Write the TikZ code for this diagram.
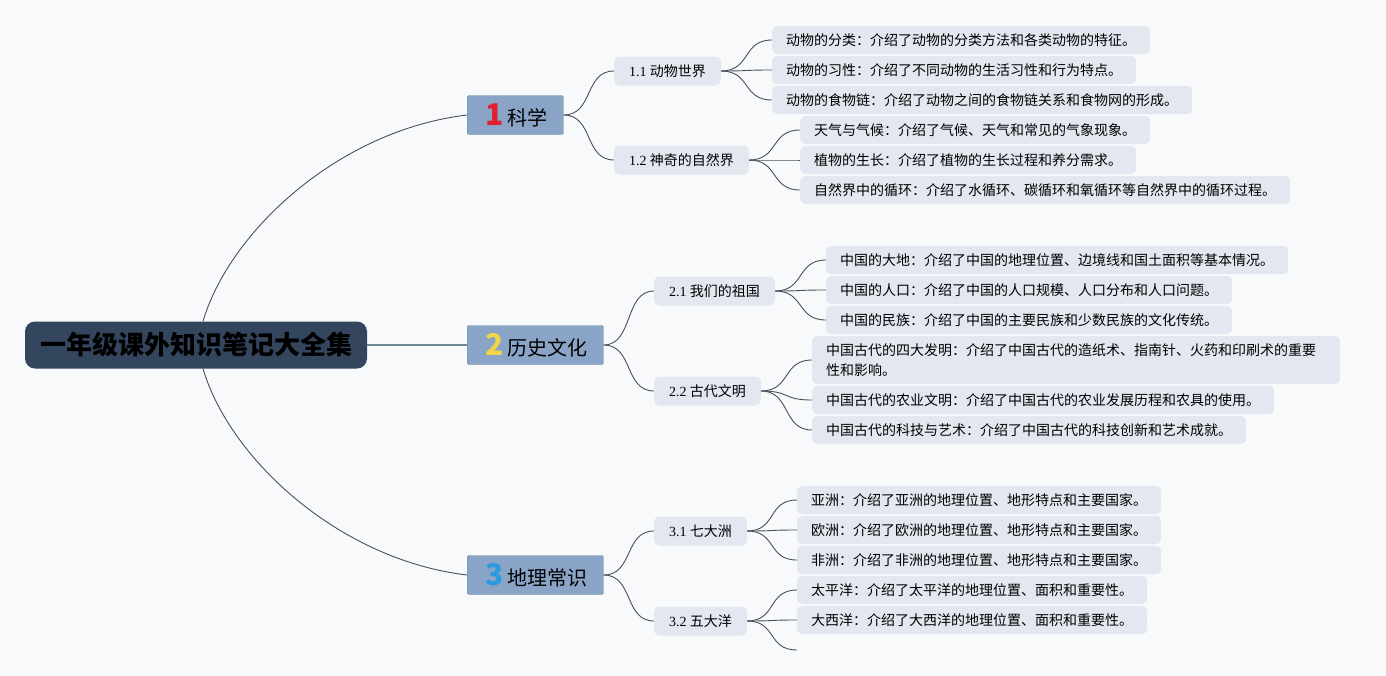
\documentclass[tikz,border=0pt]{standalone}
\usepackage{fontspec}
\setmainfont{Noto Sans CJK SC}
\newfontfamily\latin{Liberation Serif}
\definecolor{bgcol}{HTML}{F8F9FB}
\definecolor{rootcol}{HTML}{34465E}
\definecolor{branchcol}{HTML}{8AA4C8}
\definecolor{branchline}{HTML}{6A8C9C}
\definecolor{boxcol}{HTML}{E3E8F0}
\definecolor{linkcol}{HTML}{4A4F5C}
\definecolor{numred}{HTML}{E0202E}
\definecolor{numyellow}{HTML}{F0D44A}
\definecolor{numblue}{HTML}{2B9BE0}
\newcommand{\branchnum}[2]{\hspace{2pt}{\fontsize{30}{30}\selectfont\bfseries\color{#1}#2}\hspace{4pt}}
\begin{document}
\begin{tikzpicture}[x=1pt, y=-1pt,
    root/.style={rectangle, rounded corners=10pt, fill=rootcol, text=black, minimum height=47pt, inner xsep=15pt, font={\fontsize{26}{30}\selectfont\bfseries}},
    branch/.style={rectangle, rounded corners=2pt, fill=branchcol, draw=branchline, minimum height=39pt, inner xsep=16pt, inner ysep=3pt, anchor=west, font={\fontsize{20}{24}\selectfont}},
    sub/.style={rectangle, rounded corners=5pt, fill=boxcol, minimum height=29pt, inner xsep=15pt, anchor=west, font={\fontsize{14}{20}\selectfont}},
    leaf/.style={rectangle, rounded corners=5pt, fill=boxcol, minimum height=28pt, inner xsep=14pt, anchor=west, align=left, font={\fontsize{14}{20}\selectfont}},
    link/.style={draw=linkcol, line width=0.9pt},
]
    \fill[bgcol] (0,0) rectangle (1386,675);
    \useasboundingbox (0,0) rectangle (1386,675);

    % Root and main branches
    \node[root] (root) at (196,345) {一年级课外知识笔记大全集};
    \node[branch] (sci) at (467,115) {\branchnum{numred}{1}科学};
    \node[branch] (hist) at (467,345) {\branchnum{numyellow}{2}历史文化};
    \node[branch] (geo) at (467,575) {\branchnum{numblue}{3}地理常识};

    \draw[link] ([xshift=7pt]root.north) .. controls +(27,-91) and +(-127,15) .. (sci.west);
    \draw[draw=branchline!70!gray, line width=1.2pt] (root.east) -- (hist.west);
    \draw[link] ([xshift=7pt]root.south) .. controls +(27,91) and +(-127,-15) .. (geo.west);

    % Sub topics
    \node[sub] (sci1) at (614,71) {{\latin 1.1} 动物世界};
    \node[sub] (sci2) at (614,160) {{\latin 1.2} 神奇的自然界};
    \node[sub] (hist1) at (654,291) {{\latin 2.1} 我们的祖国};
    \node[sub] (hist2) at (654,391) {{\latin 2.2} 古代文明};
    \node[sub] (geo1) at (654,531) {{\latin 3.1} 七大洲};
    \node[sub] (geo2) at (654,621) {{\latin 3.2} 五大洋};

    \draw[link] (sci.east) .. controls +(30,0) and +(-30,0) .. (sci1.west);
    \draw[link] (sci.east) .. controls +(30,0) and +(-30,0) .. (sci2.west);
    \draw[link] (hist.east) .. controls +(30,0) and +(-30,0) .. (hist1.west);
    \draw[link] (hist.east) .. controls +(30,0) and +(-30,0) .. (hist2.west);
    \draw[link] (geo.east) .. controls +(30,0) and +(-30,0) .. (geo1.west);
    \draw[link] (geo.east) .. controls +(30,0) and +(-30,0) .. (geo2.west);

    % Leaves: science
    \node[leaf] (sci1a) at (772,40) {动物的分类：介绍了动物的分类方法和各类动物的特征。};
    \node[leaf] (sci1b) at (772,70) {动物的习性：介绍了不同动物的生活习性和行为特点。};
    \node[leaf] (sci1c) at (772,100) {动物的食物链：介绍了动物之间的食物链关系和食物网的形成。};
    \node[leaf] (sci2a) at (800,130) {天气与气候：介绍了气候、天气和常见的气象现象。};
    \node[leaf] (sci2b) at (800,160) {植物的生长：介绍了植物的生长过程和养分需求。};
    \node[leaf] (sci2c) at (800,190) {自然界中的循环：介绍了水循环、碳循环和氧循环等自然界中的循环过程。};

    % Leaves: history
    \node[leaf] (hist1a) at (826,260) {中国的大地：介绍了中国的地理位置、边境线和国土面积等基本情况。};
    \node[leaf] (hist1b) at (826,290) {中国的人口：介绍了中国的人口规模、人口分布和人口问题。};
    \node[leaf] (hist1c) at (826,320) {中国的民族：介绍了中国的主要民族和少数民族的文化传统。};
    \node[leaf, text width=500pt, minimum height=48pt] (hist2a) at (812,360) {中国古代的四大发明：介绍了中国古代的造纸术、指南针、火药和印刷术的重要\\性和影响。};
    \node[leaf] (hist2b) at (812,400) {中国古代的农业文明：介绍了中国古代的农业发展历程和农具的使用。};
    \node[leaf] (hist2c) at (812,430) {中国古代的科技与艺术：介绍了中国古代的科技创新和艺术成就。};

    % Leaves: geography
    \node[leaf] (geo1a) at (797,500) {亚洲：介绍了亚洲的地理位置、地形特点和主要国家。};
    \node[leaf] (geo1b) at (797,530) {欧洲：介绍了欧洲的地理位置、地形特点和主要国家。};
    \node[leaf] (geo1c) at (797,560) {非洲：介绍了非洲的地理位置、地形特点和主要国家。};
    \node[leaf] (geo2a) at (797,590) {太平洋：介绍了太平洋的地理位置、面积和重要性。};
    \node[leaf] (geo2b) at (797,620) {大西洋：介绍了大西洋的地理位置、面积和重要性。};
    \coordinate (geo2c) at (797,650);

    \foreach \s/\l in {sci1/sci1a, sci1/sci1b, sci1/sci1c, sci2/sci2a, sci2/sci2b, sci2/sci2c,
                       hist1/hist1a, hist1/hist1b, hist1/hist1c, hist2/hist2a, hist2/hist2b, hist2/hist2c,
                       geo1/geo1a, geo1/geo1b, geo1/geo1c, geo2/geo2a, geo2/geo2b}
        \draw[link] (\s.east) .. controls +(30,0) and +(-30,0) .. (\l.west);
    \draw[link] (geo2.east) .. controls +(30,0) and +(-30,0) .. (geo2c);
\end{tikzpicture}
\end{document}
